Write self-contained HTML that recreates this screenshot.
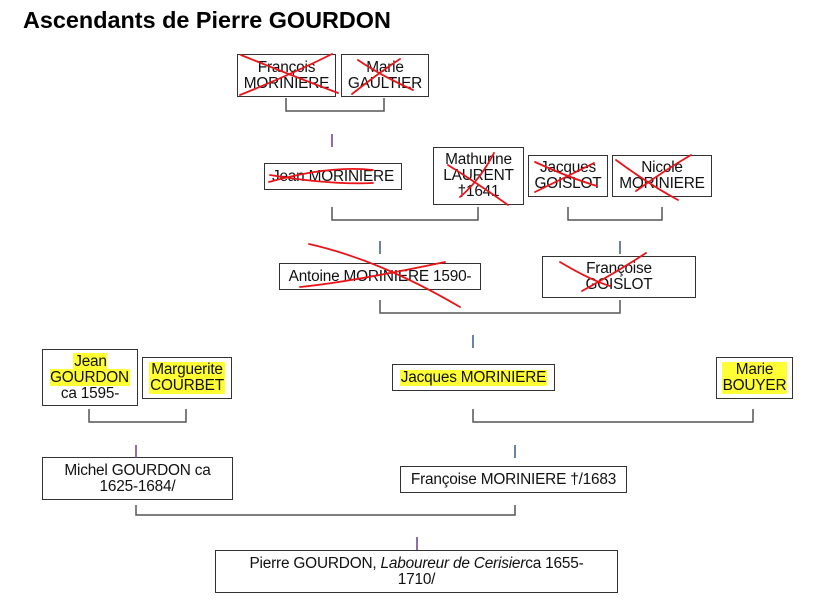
<!DOCTYPE html>
<html><head><meta charset="utf-8"><style>
body{margin:0;width:817px;height:616px;background:#fff;position:relative;overflow:hidden;font-family:"Liberation Sans",sans-serif}
.t{position:absolute;left:23px;top:7px;font-size:23.4px;font-weight:bold;color:#000;white-space:nowrap}
.b{position:absolute;box-sizing:border-box;border:1.5px solid #333;display:flex;align-items:center;justify-content:center;text-align:center;font-size:15.4px;line-height:16px;color:#111;white-space:nowrap;letter-spacing:-0.2px}
.h{background:#ffff33;padding:0 1px}
svg{position:absolute;left:0;top:0}
</style></head><body>
<div class="t">Ascendants de Pierre GOURDON</div>

<div class="b" style="left:237px;top:54px;width:99px;height:43px"><span>François<br>MORINIERE</span></div>
<div class="b" style="left:341px;top:54px;width:88px;height:43px"><span>Marie<br>GAULTIER</span></div>

<div class="b" style="left:264px;top:163px;width:138px;height:27px">Jean MORINIERE</div>
<div class="b" style="left:433px;top:147px;width:91px;height:58px"><span>Mathurine<br>LAURENT<br>†1641</span></div>
<div class="b" style="left:528px;top:155px;width:80px;height:42px"><span>Jacques<br>GOISLOT</span></div>
<div class="b" style="left:612px;top:155px;width:100px;height:42px"><span>Nicole<br>MORINIERE</span></div>

<div class="b" style="left:279px;top:263px;width:202px;height:27px">Antoine MORINIERE 1590-</div>
<div class="b" style="left:542px;top:256px;width:154px;height:42px"><span>Françoise<br>GOISLOT</span></div>

<div class="b" style="left:42px;top:349px;width:96px;height:57px"><span><span class="h">Jean<br>GOURDON</span><br>ca 1595-</span></div>
<div class="b" style="left:142px;top:357px;width:90px;height:42px"><span class="h">Marguerite<br>COURBET</span></div>
<div class="b" style="left:392px;top:364px;width:163px;height:27px"><span class="h">Jacques MORINIERE</span></div>
<div class="b" style="left:716px;top:357px;width:77px;height:42px"><span class="h">Marie<br>BOUYER</span></div>

<div class="b" style="left:42px;top:457px;width:191px;height:43px"><span>Michel GOURDON ca<br>1625-1684/</span></div>
<div class="b" style="left:400px;top:466px;width:227px;height:27px">Françoise MORINIERE †/1683</div>

<div class="b" style="left:215px;top:550px;width:403px;height:43px"><span>Pierre GOURDON, <i>Laboureur de Cerisier</i>ca 1655-<br>1710/</span></div>

<svg width="817" height="616" viewBox="0 0 817 616">
<g fill="none" stroke="#555" stroke-width="1.5">
<polyline points="286,98 286,111 384,111 384,98"/>
<polyline points="332,207 332,220 478,220 478,207"/>
<polyline points="568,207 568,220 662,220 662,207"/>
<polyline points="380,300 380,313 620,313 620,300"/>
<polyline points="89,409 89,422 186,422 186,409"/>
<polyline points="473,409 473,422 753,422 753,409"/>
<polyline points="136,505 136,515 515,515 515,505"/>
</g>
<g stroke="#6a3d8a" stroke-width="1.5">
<line x1="332" y1="134" x2="332" y2="147"/>
<line x1="136" y1="445" x2="136" y2="458"/>
<line x1="417" y1="537" x2="417" y2="550"/>
</g>
<g stroke="#3a5a80" stroke-width="1.5">
<line x1="380" y1="241" x2="380" y2="254"/>
<line x1="620" y1="241" x2="620" y2="254"/>
<line x1="473" y1="335" x2="473" y2="348"/>
<line x1="515" y1="445" x2="515" y2="458"/>
</g>
<g fill="none" stroke="#e8141a" stroke-width="1.8" stroke-linecap="round">
<path d="M241,55 Q290,75 338,93"/><path d="M240,95 Q290,75 332,54"/>
<path d="M358,60 Q380,75 413,90"/><path d="M352,94 Q380,72 400,59"/>
<path d="M269,182 Q330,165 373,170"/><path d="M270,175 Q330,185 373,183"/>
<path d="M494,153 Q480,180 460,197"/><path d="M448,165 Q480,185 508,205"/>
<path d="M535,162 Q570,178 597,186"/><path d="M535,192 Q570,175 594,163"/>
<path d="M616,160 Q650,185 678,200"/><path d="M636,191 Q665,170 691,155"/>
<path d="M309,244 Q380,260 460,307"/><path d="M300,287 Q350,282 445,262"/>
<path d="M560,262 Q590,280 610,286"/><path d="M582,291 Q620,270 646,253"/>
</g>
</svg>
</body></html>
